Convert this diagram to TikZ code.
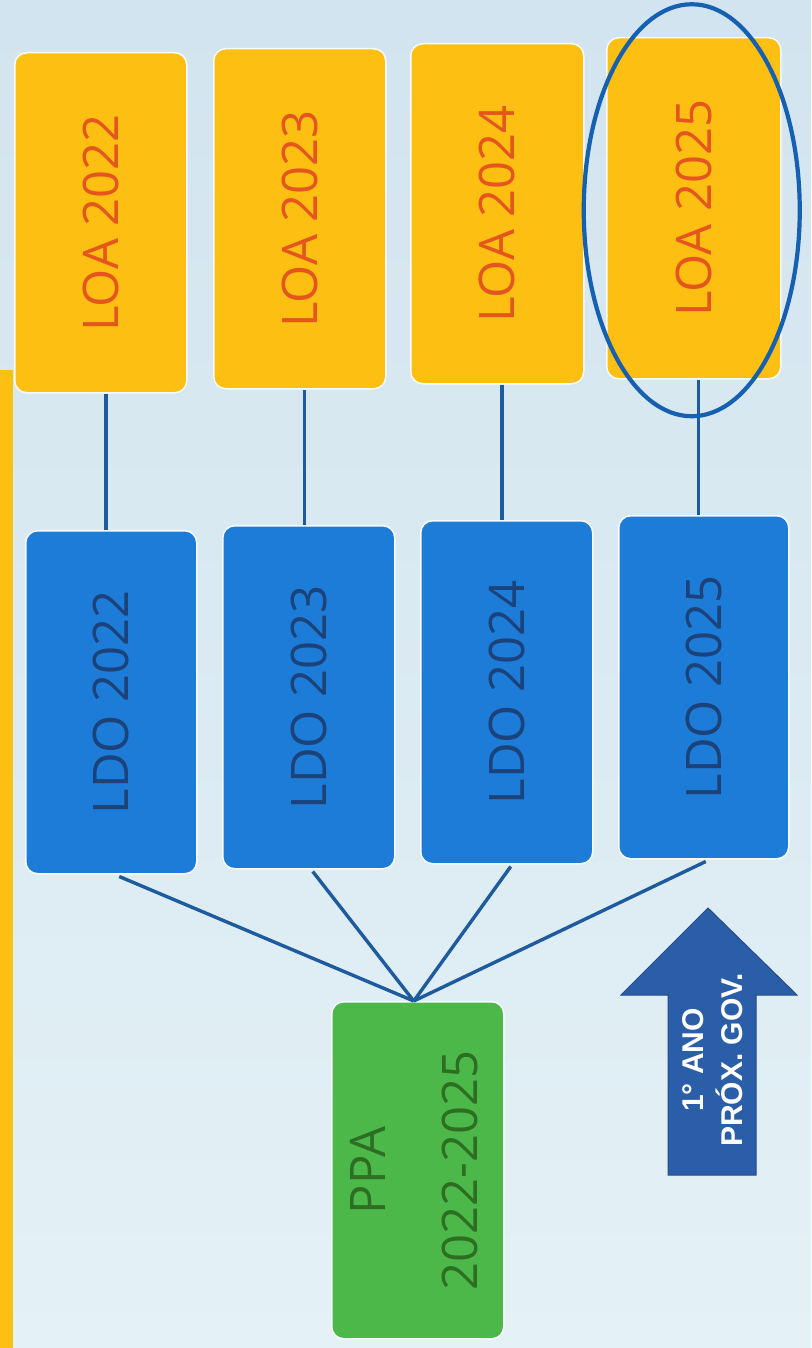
\documentclass[tikz,border=0pt]{standalone}
\usepackage{fontspec}
\usepackage{graphicx}
\setmainfont{Open Sans}
\newfontfamily\arrowfont{Liberation Sans}
\usetikzlibrary{calc}
\definecolor{bgtop}{HTML}{D2E4EF}
\definecolor{bgbot}{HTML}{E4F1F6}
\definecolor{loafill}{HTML}{FDBF12}
\definecolor{loatext}{HTML}{E5561E}
\definecolor{ldofill}{HTML}{1C7CD8}
\definecolor{ldotext}{HTML}{1B4279}
\definecolor{ppafill}{HTML}{4DB84A}
\definecolor{ppatext}{HTML}{2C6E22}
\definecolor{linec}{HTML}{1D5A9E}
\definecolor{ringc}{HTML}{1660B2}
\definecolor{arrowfill}{HTML}{2B5EA8}
\definecolor{arrowedge}{HTML}{234C8C}
\begin{document}
\begin{tikzpicture}[x=1pt,y=-1pt,
  box/.style={draw=white!85!bgtop, line width=1.5pt, rounded corners=12pt, inner sep=0pt, anchor=north west},
  loabox/.style={box, fill=loafill, text=loatext, font=\fontsize{49}{59}\selectfont},
  ldobox/.style={box, fill=ldofill, text=ldotext, font=\fontsize{49}{59}\selectfont},
  ppabox/.style={box, fill=ppafill, text=ppatext, font=\fontsize{49}{70}\selectfont},
  conn/.style={draw=linec, line width=3.4pt},
  ring/.style={draw=ringc, line width=4.2pt},
  bigarrow/.style={fill=arrowfill, draw=arrowedge, line width=1pt},
  arrowtext/.style={rotate=90, align=center, text=white, font=\arrowfont\bfseries\fontsize{30}{39}\selectfont}
]
\useasboundingbox (0,0) rectangle (811,1348);
\shade[top color=bgtop, bottom color=bgbot] (0,0) rectangle (811,1348);
\fill[loafill] (0,370) rectangle (13,1348);

% LOA boxes
\node[loabox, minimum width=172pt, minimum height=340pt] (loa1) at (14,52) {\rotatebox{90}{LOA 2022}};
\node[loabox, minimum width=172pt, minimum height=340pt] (loa2) at (213,48) {\rotatebox{90}{LOA 2023}};
\node[loabox, minimum width=173pt, minimum height=340pt] (loa3) at (410,43) {\rotatebox{90}{LOA 2024}};
\node[loabox, minimum width=174pt, minimum height=341pt] (loa4) at (606,37) {\rotatebox{90}{LOA 2025}};

% LDO boxes
\node[ldobox, minimum width=171pt, minimum height=343pt] (ldo1) at (25,530) {\rotatebox{90}{LDO 2022}};
\node[ldobox, minimum width=172pt, minimum height=343pt] (ldo2) at (222,525) {\rotatebox{90}{LDO 2023}};
\node[ldobox, minimum width=172pt, minimum height=343pt] (ldo3) at (420,520) {\rotatebox{90}{LDO 2024}};
\node[ldobox, minimum width=170pt, minimum height=343pt] (ldo4) at (618,515) {\rotatebox{90}{LDO 2025}};

% PPA box
\node[ppabox, minimum width=172pt, minimum height=337pt] (ppa) at (331,1001)
  {\rotatebox{90}{\begin{tabular}{@{}c@{}}PPA\\[22pt]2022-2025\end{tabular}}};

% LOA -> LDO connectors
\foreach \i in {1,2,3,4}{
  \coordinate (m\i) at ($(loa\i.south)!.5!(ldo\i.north)$);
  \draw[conn] (loa\i.south -| m\i) -- (ldo\i.north -| m\i);
}

% LDO -> PPA fan
\coordinate (apex) at ($(ppa.north)+(-4,0)$);
\coordinate (f1) at ($(ldo1.south)+(8,2)$);
\coordinate (f2) at ($(ldo2.south)+(4,2)$);
\coordinate (f3) at ($(ldo3.south)+(4,2)$);
\coordinate (f4) at ($(ldo4.south)+(2,2)$);
\foreach \i in {1,2,3,4}{
  \draw[conn] (f\i) -- (apex);
}

% highlight ellipse around LOA 2025
\draw[ring] ($(loa4.center)+(-2,2)$) ellipse [x radius=108, y radius=206];

% arrow "1o ANO PROX. GOV."
\draw[bigarrow] (668,1175) -- (668,995) -- (621,995) -- (708,908) -- (797,995) -- (756,995) -- (756,1175) -- cycle;
\node[arrowtext] (govtext) at (713,1060) {1° ANO\\PRÓX. GOV.};
\end{tikzpicture}
\end{document}
